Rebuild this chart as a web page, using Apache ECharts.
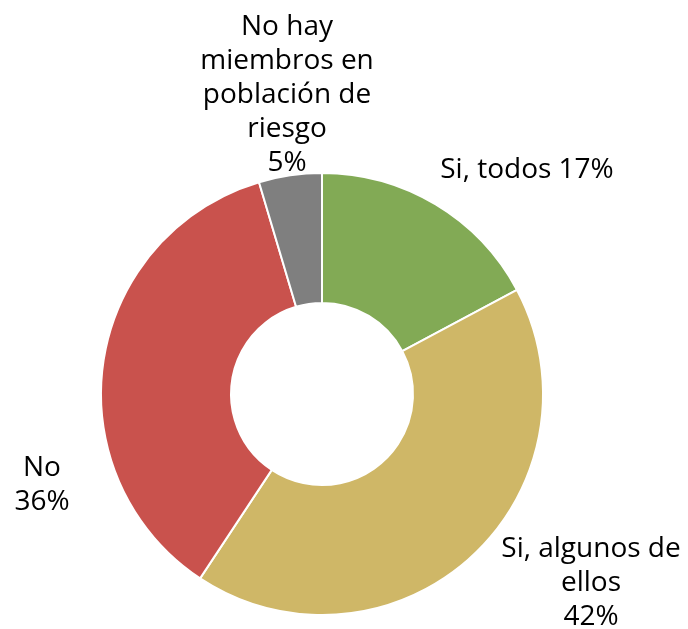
<!DOCTYPE html>
<html>
<head>
<meta charset="utf-8">
<script src="https://cdn.jsdelivr.net/npm/echarts@6/dist/echarts.min.js"></script>
<style>
  html, body { margin: 0; padding: 0; background: #fff; }
  #chart { width: 688px; height: 629px; }
</style>
</head>
<body>
<div id="chart"></div>
<script>
var categories = ['Si, todos', 'Si, algunos de\nellos', 'No', 'No hay\nmiembros en\npoblación de\nriesgo'];
var values = [17.2, 42.1, 36.1, 4.6];
var labelSep = [' ', '\n', '\n', '\n'];
var colors = ['#82aa55', '#cfb767', '#c9524d', '#7f7f7f'];
// label centres (px)
var labelPos = [[527, 170], [591, 583], [42, 485], [287, 95]];

var chart = echarts.init(document.getElementById('chart'));

var data = categories.map(function (name, i) {
  return { name: name, value: values[i], itemStyle: { color: colors[i] } };
});

chart.setOption({
  animation: false,
  series: [
    {
      type: 'pie',
      center: [322, 394],
      radius: [91, 221],
      startAngle: 90,
      clockwise: true,
      data: data,
      itemStyle: {
        borderColor: '#fff',
        borderWidth: 2,
      },
      label: {
        show: true,
        position: 'outside',
        fontFamily: 'Open Sans',
        fontSize: 28,
        lineHeight: 34,
        color: '#000',
        align: 'center',
        overflow: 'none',
        formatter: function (p) {
          return p.name + labelSep[p.dataIndex] + Math.round(p.value) + '%';
        },
      },
      labelLine: { show: false },
      labelLayout: function (p) {
        var pos = labelPos[p.dataIndex];
        return { x: pos[0], y: pos[1], align: 'center', verticalAlign: 'middle' };
      },
    },
  ],
});
</script>
</body>
</html>
